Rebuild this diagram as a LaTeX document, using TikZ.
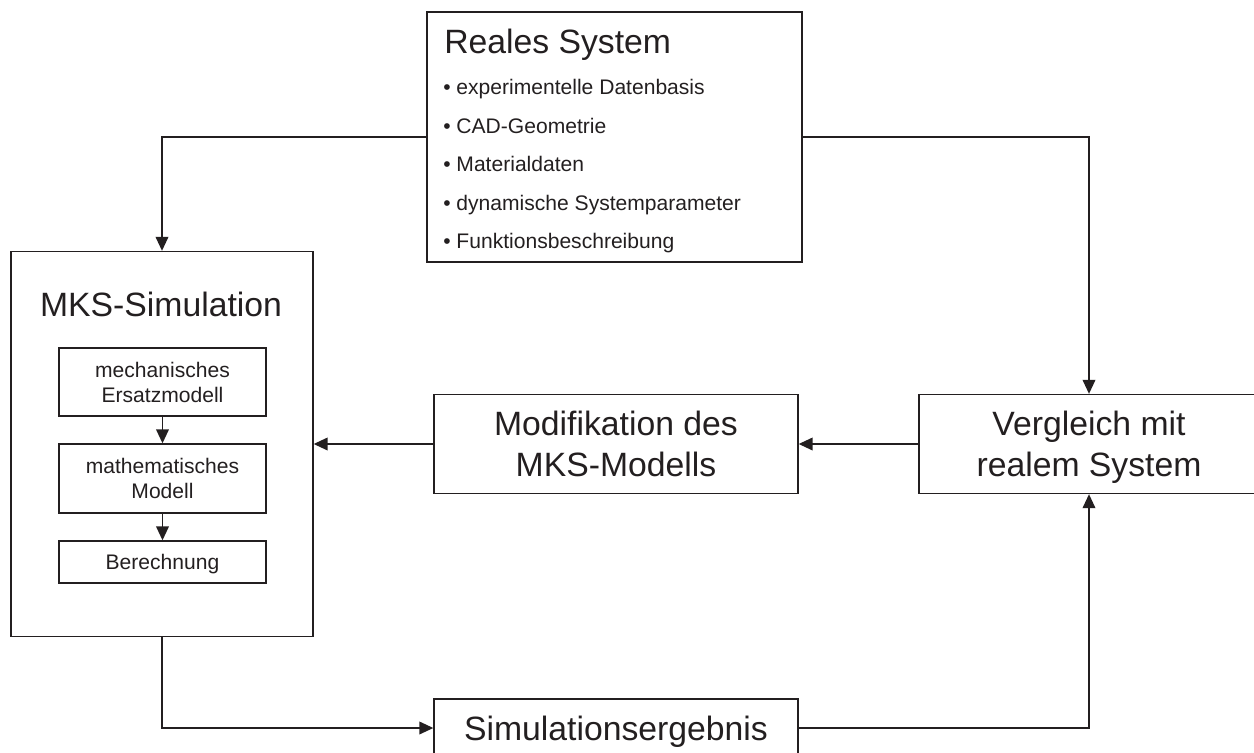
\documentclass[tikz,border=0pt]{standalone}
\usepackage{fontspec}
\setmainfont{Liberation Sans}
\usetikzlibrary{arrows.meta}
\definecolor{ink}{RGB}{35,31,32}
\begin{document}
\begin{tikzpicture}[x=0.75pt,y=-0.75pt,
  box/.style={draw=ink, line width=1pt, inner sep=0pt, text=ink, align=center, text depth=0pt},
  bigtext/.style={font=\fontsize{25.3}{30.75}\selectfont},
  smalltext/.style={font=\fontsize{15.8}{18.75}\selectfont},
  lbl/.style={text=ink, inner sep=0pt},
  flow/.style={draw=ink, line width=1.2pt, -{Triangle[length=10.5pt,width=9.5pt]}}]
\useasboundingbox (0,0) rectangle (1254,753);
\clip (0,0) rectangle (1254,753);

% real system with its data sources
\node[box, minimum width=281.25pt, minimum height=187.5pt] (real) at (614.5,137) {};
\node[lbl, bigtext, anchor=base west] (realtitle) at (444,53) {Reales System};
\node[lbl, smalltext, anchor=base west] (r1) at (443,94.5) {• experimentelle Datenbasis};
\node[lbl, smalltext, anchor=base west] (r2) at (443,133) {• CAD-Geometrie};
\node[lbl, smalltext, anchor=base west] (r3) at (443,171.5) {• Materialdaten};
\node[lbl, smalltext, anchor=base west] (r4) at (443,210) {• dynamische Systemparameter};
\node[lbl, smalltext, anchor=base west] (r5) at (443,248.5) {• Funktionsbeschreibung};

% multibody simulation with its internal steps
\node[box, minimum width=226.5pt, minimum height=288.75pt] (mks) at (162,444) {};
\node[lbl, bigtext, anchor=base] (mkstitle) at (161,316) {MKS-Simulation};
\node[box, smalltext, minimum width=155.25pt, minimum height=51pt] (b1) at (162.5,382) {mechanisches\\Ersatzmodell};
\node[box, smalltext, minimum width=155.25pt, minimum height=51.75pt] (b2) at (162.5,478.5) {mathematisches\\Modell};
\node[box, smalltext, minimum width=155.25pt, minimum height=31.5pt] (b3) at (162.5,562) {Berechnung};

% loop boxes (the comparison box runs past the right margin)
\node[box, bigtext, minimum width=273pt, minimum height=74.25pt] (mod) at (616,444) {Modifikation des\\MKS-Modells};
\node[box, bigtext, minimum width=255pt, minimum height=74.25pt] (verg) at (1089,444) {Vergleich mit\\realem System};
\node[box, bigtext, minimum width=273pt, minimum height=43.5pt] (sim) at (616,728) {Simulationsergebnis};

% connectors
\draw[flow] (real.west) -| (mks.north);
\draw[flow] (real.east) -| (verg.north);
\draw[flow] (verg.west) -- (mod.east);
\draw[flow] (mod.west) -- (mks.east);
\draw[flow] (mks.south) |- (sim.west);
\draw[flow] (sim.east) -| (verg.south);
\draw[flow] (b1) -- (b2);
\draw[flow] (b2) -- (b3);
\end{tikzpicture}
\end{document}
